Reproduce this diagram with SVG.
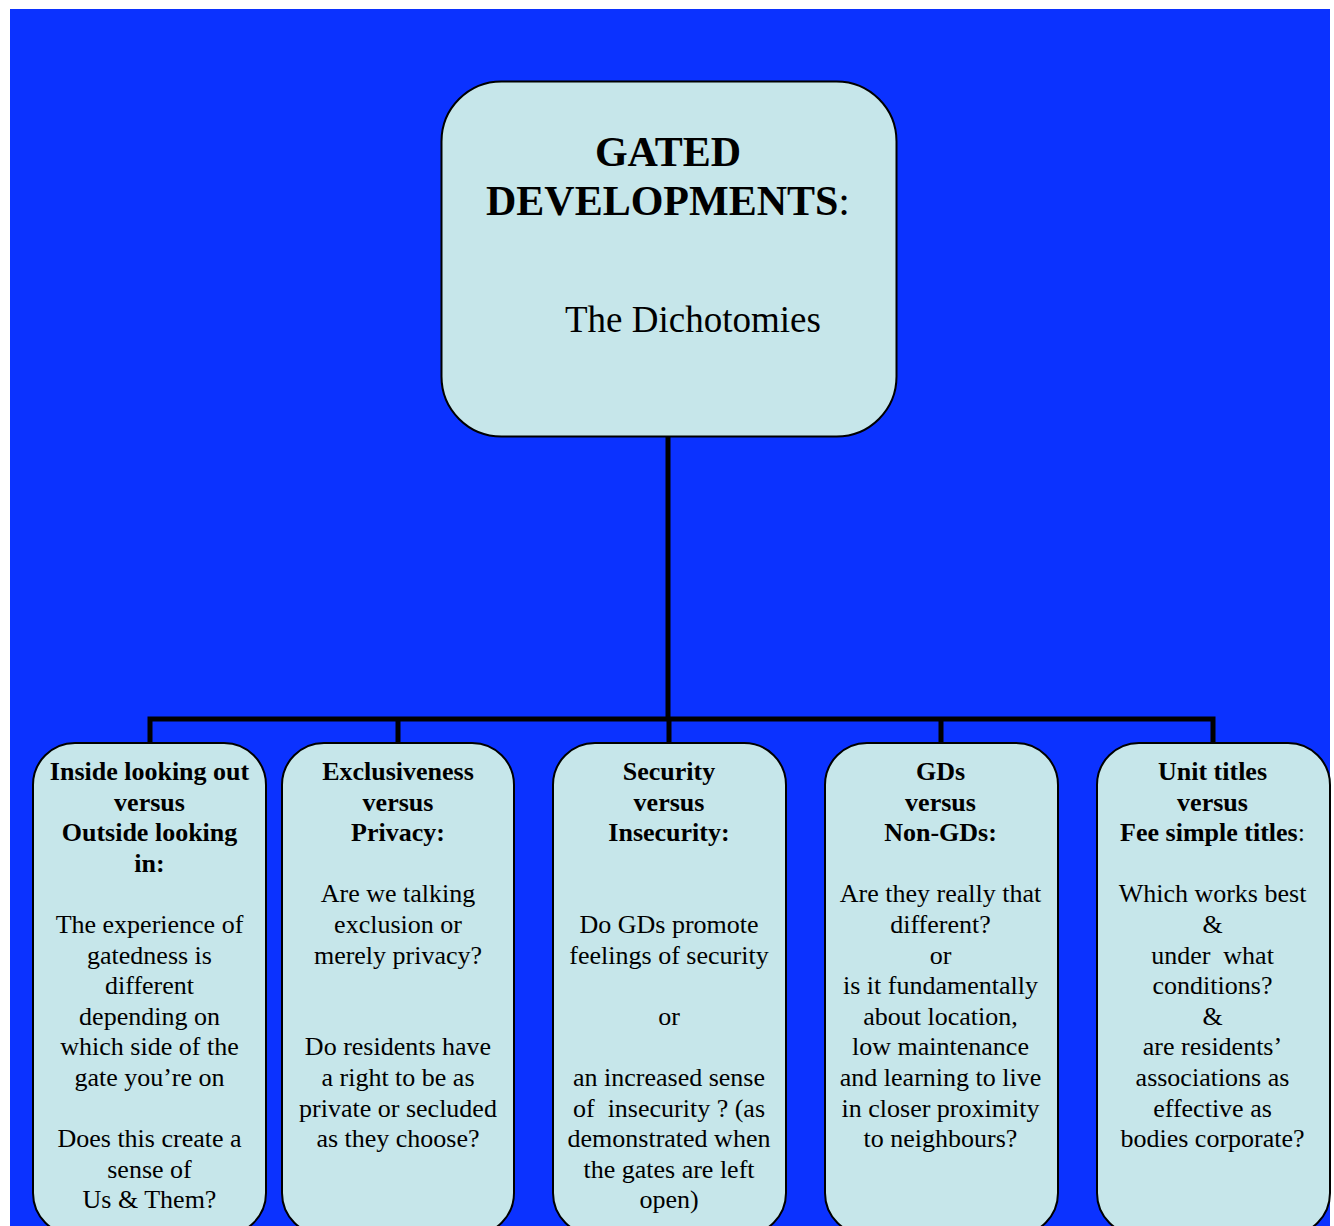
<svg xmlns="http://www.w3.org/2000/svg" width="1334" height="1226" viewBox="0 0 1334 1226">
<style>
.box{fill:#C6E6EA;stroke:#000;stroke-width:2}
.t{font-family:"Liberation Serif","Times New Roman",serif;font-size:26px;fill:#000;text-anchor:middle;white-space:pre}
.b{font-weight:bold}
.conn{stroke:#000;stroke-width:5;fill:none}
</style>
<rect x="0" y="0" width="1334" height="1226" fill="#ffffff"/>
<rect x="10" y="9" width="1320" height="1217" fill="#0B32FF"/>
<g id="connectors">
<path class="conn" d="M668,437 V719 M147.5,719 H1215.5 M150,719 V743 M398,719 V743 M669,719 V743 M941,719 V743 M1213,719 V743"/>
</g>
<g id="root">
<rect class="box" x="441.5" y="81.5" width="455" height="355" rx="60"/>
<text class="t b" x="668" y="166" style="font-size:42px">GATED</text>
<text class="t" x="668" y="215" style="font-size:42px"><tspan class="b">DEVELOPMENTS</tspan>:</text>
<text class="t" x="565" y="332" style="font-size:37px;text-anchor:start">The Dichotomies</text>
</g>
<g id="n1">
<rect class="box" x="33" y="743" width="233" height="492" rx="42"/>
<text class="t b" x="149.5" y="780">Inside looking out</text>
<text class="t b" x="149.5" y="810.6">versus</text>
<text class="t b" x="149.5" y="841.2">Outside looking</text>
<text class="t b" x="149.5" y="871.8">in:</text>
<text class="t" x="149.5" y="933">The experience of</text>
<text class="t" x="149.5" y="963.6">gatedness is</text>
<text class="t" x="149.5" y="994.2">different</text>
<text class="t" x="149.5" y="1024.8">depending on</text>
<text class="t" x="149.5" y="1055.4">which side of the</text>
<text class="t" x="149.5" y="1086">gate you’re on</text>
<text class="t" x="149.5" y="1147.2">Does this create a</text>
<text class="t" x="149.5" y="1177.8">sense of</text>
<text class="t" x="149.5" y="1208.4">Us &amp; Them?</text>
</g>
<g id="n2">
<rect class="box" x="282" y="743" width="232" height="492" rx="42"/>
<text class="t b" x="398" y="780">Exclusiveness</text>
<text class="t b" x="398" y="810.6">versus</text>
<text class="t b" x="398" y="841.2">Privacy:</text>
<text class="t" x="398" y="902.4">Are we talking</text>
<text class="t" x="398" y="933">exclusion or</text>
<text class="t" x="398" y="963.6">merely privacy?</text>
<text class="t" x="398" y="1055.4">Do residents have</text>
<text class="t" x="398" y="1086">a right to be as</text>
<text class="t" x="398" y="1116.6">private or secluded</text>
<text class="t" x="398" y="1147.2">as they choose?</text>
</g>
<g id="n3">
<rect class="box" x="553" y="743" width="233" height="492" rx="42"/>
<text class="t b" x="669" y="780">Security</text>
<text class="t b" x="669" y="810.6">versus</text>
<text class="t b" x="669" y="841.2">Insecurity:</text>
<text class="t" x="669" y="933">Do GDs promote</text>
<text class="t" x="669" y="963.6">feelings of security</text>
<text class="t" x="669" y="1024.8">or</text>
<text class="t" x="669" y="1086">an increased sense</text>
<text class="t" x="669" y="1116.6">of  insecurity ? (as</text>
<text class="t" x="669" y="1147.2">demonstrated when</text>
<text class="t" x="669" y="1177.8">the gates are left</text>
<text class="t" x="669" y="1208.4">open)</text>
</g>
<g id="n4">
<rect class="box" x="825" y="743" width="233" height="492" rx="42"/>
<text class="t b" x="940.5" y="780">GDs</text>
<text class="t b" x="940.5" y="810.6">versus</text>
<text class="t b" x="940.5" y="841.2">Non-GDs:</text>
<text class="t" x="940.5" y="902.4">Are they really that</text>
<text class="t" x="940.5" y="933">different?</text>
<text class="t" x="940.5" y="963.6">or</text>
<text class="t" x="940.5" y="994.2">is it fundamentally</text>
<text class="t" x="940.5" y="1024.8">about location,</text>
<text class="t" x="940.5" y="1055.4">low maintenance</text>
<text class="t" x="940.5" y="1086">and learning to live</text>
<text class="t" x="940.5" y="1116.6">in closer proximity</text>
<text class="t" x="940.5" y="1147.2">to neighbours?</text>
</g>
<g id="n5">
<rect class="box" x="1097" y="743" width="233" height="492" rx="42"/>
<text class="t b" x="1212.5" y="780">Unit titles</text>
<text class="t b" x="1212.5" y="810.6">versus</text>
<text class="t" x="1212.5" y="841.2"><tspan class="b">Fee simple titles</tspan>:</text>
<text class="t" x="1212.5" y="902.4">Which works best</text>
<text class="t" x="1212.5" y="933">&amp;</text>
<text class="t" x="1212.5" y="963.6">under  what</text>
<text class="t" x="1212.5" y="994.2">conditions?</text>
<text class="t" x="1212.5" y="1024.8">&amp;</text>
<text class="t" x="1212.5" y="1055.4">are residents’</text>
<text class="t" x="1212.5" y="1086">associations as</text>
<text class="t" x="1212.5" y="1116.6">effective as</text>
<text class="t" x="1212.5" y="1147.2">bodies corporate?</text>
</g>
</svg>
